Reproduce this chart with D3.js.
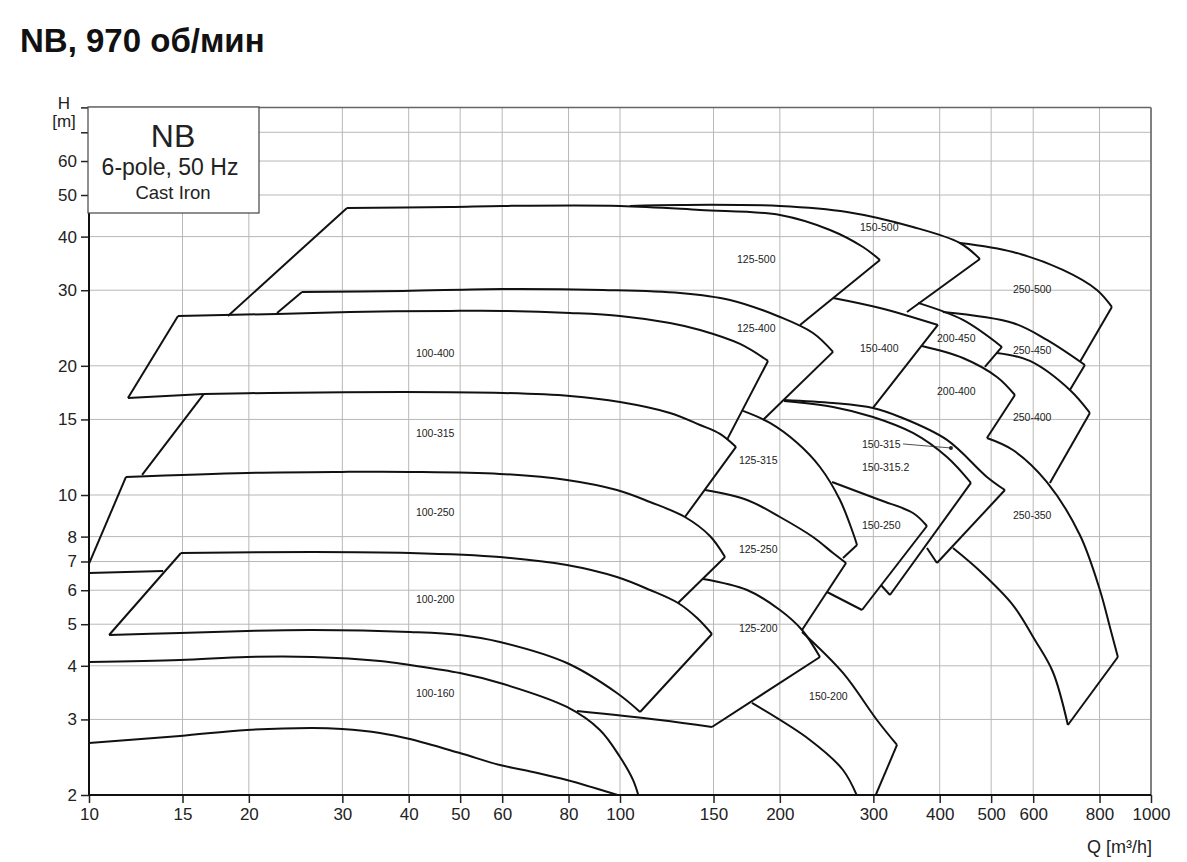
<!DOCTYPE html>
<html>
<head>
<meta charset="utf-8">
<script src="https://cdn.jsdelivr.net/npm/d3@7"></script>
<style>
	body { margin: 0; background: #fff; }
	svg { display: block; font-family: "Liberation Sans", Arial, sans-serif; }
	.grid line { stroke: #b8b8b8; stroke-width: 1; }
	.pump path { fill: none; stroke: #111; stroke-width: 2; stroke-linejoin: round; }
	.axis text { font-size: 17px; fill: #222; }
	.axis line { stroke: #222; stroke-width: 1.5; }
	.label { font-size: 10.5px; fill: #222; }
</style>
</head>
<body>
<div id="root"></div>
<script>
const xTicks = [10, 15, 20, 30, 40, 50, 60, 80, 100, 150, 200, 300, 400, 500, 600, 800, 1000]
const yTicks = [2, 3, 4, 5, 6, 7, 8, 10, 15, 20, 30, 40, 50, 60, 70, 80]
const yTickLabels = ['2', '3', '4', '5', '6', '7', '8', '10', '15', '20', '30', '40', '50', '60', '', '']

// every pump = list of visible outline pieces, points are [Q m3/h, H m]
const p100_400 = [
	[[11.84, 16.83], [14.71, 26.14]],
	[[14.71, 26.14], [22.6, 26.42], [31.0, 26.7], [47.8, 26.85], [60.2, 26.85], [80.5, 26.56], [100, 26.14], [124.2, 25.17], [141.5, 24.24], [168.3, 22.49], [190, 20.53]],
	[[190, 20.53], [159, 13.44]],
	[[11.84, 16.83], [16.46, 17.2]]
]
const p100_315 = [
	[[12.59, 11.14], [16.46, 17.2]],
	[[16.46, 17.2], [21.9, 17.29], [39.0, 17.38], [60.2, 17.29], [80.5, 17.01], [100, 16.47], [124.2, 15.53], [141.5, 14.56], [154.3, 13.88], [165.4, 12.94]],
	[[165.4, 12.94], [132.5, 8.887]]
]
const p100_250 = [
	[[9.83, 6.58], [11.74, 11.02]],
	[[11.74, 11.02], [19.83, 11.26], [29.95, 11.32], [40.21, 11.32], [59.41, 11.2], [79.44, 10.84], [98.67, 10.27], [113.9, 9.631], [132.5, 8.887], [147.7, 8.026], [157.7, 7.169]],
	[[157.7, 7.169], [128.6, 5.602]],
	[[9.83, 6.58], [13.79, 6.651]]
]
const p100_200 = [
	[[10.91, 4.719], [14.9, 7.325]],
	[[14.9, 7.325], [26.41, 7.365], [40.21, 7.325], [59.41, 7.169], [79.44, 6.869], [98.67, 6.44], [113.9, 6.007], [128.6, 5.602], [139.7, 5.169], [149, 4.744]],
	[[149, 4.744], [109.1, 3.122]],
	[[10.91, 4.719], [14.84, 4.77], [19.83, 4.822], [26.41, 4.847], [40.21, 4.795], [49.95, 4.719], [59.41, 4.545], [79.44, 4.06], [98.67, 3.457], [109.1, 3.122]]
]
const p100_160 = [
	[[10, 4.082], [14.84, 4.126], [19.83, 4.193], [26.41, 4.193], [35.31, 4.104], [40.21, 4.017], [49.95, 3.849], [59.41, 3.648], [79.44, 3.207], [91.65, 2.835], [100, 2.452], [105.8, 2.168], [109.6, 1.896]],
	[[10, 2.644], [14.84, 2.745], [19.83, 2.835], [26.41, 2.866], [29.95, 2.85], [35.31, 2.79], [40.21, 2.701], [49.95, 2.505], [59.41, 2.349], [68.55, 2.263], [79.44, 2.168], [103, 1.97]]
]
const p125_500 = [
	[[18.27, 26.14], [30.61, 46.65]],
	[[30.61, 46.65], [47.83, 46.9], [60.19, 47.15], [100, 47.15], [141.5, 46.14], [200.1, 44.92], [248.6, 41.45], [286.8, 37.83], [308.7, 35.29]],
	[[308.7, 35.29], [218.3, 24.9]]
]
const p125_400 = [
	[[22.6, 26.56], [25.18, 29.73]],
	[[25.18, 29.73], [39.01, 29.89], [60.19, 30.21], [92.85, 30.05], [129.7, 29.57], [161.1, 28.48], [200.1, 25.99], [230.9, 23.85], [251.9, 21.55]],
	[[251.9, 21.55], [185.9, 14.96]]
]
const p125_315 = [
	[[170.5, 15.7], [191.6, 14.72], [215.5, 13.23], [238, 11.62], [259.6, 9.735], [274.7, 8.156], [279.5, 7.647]],
	[[279.5, 7.647], [263, 7.131]]
]
const p125_250 = [
	[[144.6, 10.27], [173.5, 9.735], [200.1, 8.887], [230.9, 7.982], [251.9, 7.325], [266.5, 6.943]],
	[[266.5, 6.943], [220.2, 4.847]]
]
const p125_200 = [
	[[143.4, 6.372], [173.5, 6.007], [200.1, 5.396], [220.2, 4.847], [238, 4.193]],
	[[238, 4.193], [149, 2.881]],
	[[82.96, 3.139], [118.9, 2.991], [149, 2.881]]
]
const p150_500 = [
	[[104.4, 47.15], [129.7, 47.41], [200.1, 47.15], [267.6, 45.65], [356.2, 42.12], [436.7, 38.65], [476.2, 35.47]],
	[[476.2, 35.47], [347.1, 26.7]]
]
const p150_400 = [
	[[251.9, 28.79], [308.7, 27.28], [396.9, 24.9]],
	[[396.9, 24.9], [299.5, 15.95]]
]
const p150_315 = [
	[[203.6, 16.65], [251.9, 16.38], [299.5, 15.95], [336.7, 15.2], [412.8, 13.44], [490.9, 11.02], [530.8, 10.27]],
	[[530.8, 10.27], [395.3, 6.943]],
	[[378.5, 7.525], [395.3, 6.943]]
]
const p150_315_2 = [
	[[203.6, 16.56], [251.9, 16.04], [299.5, 15.2], [356.2, 13.95], [412.8, 12.26], [458, 10.67]],
	[[458, 10.67], [322.4, 5.848]],
	[[310, 6.17], [322.4, 5.848]]
]
const p150_250 = [
	[[250.8, 10.72], [308.7, 9.735], [356.2, 9.08], [378.5, 8.468]],
	[[378.5, 8.468], [285.6, 5.396]],
	[[245.4, 5.943], [285.6, 5.396]]
]
const p150_200 = [
	[[220.2, 4.795], [263, 3.849], [304.7, 2.991], [332.4, 2.616]],
	[[332.4, 2.616], [300.5, 1.95]],
	[[177.2, 3.277], [227.9, 2.687], [263, 2.287], [281.5, 1.95]]
]
const p200_450 = [
	[[364, 28.03], [442.4, 25.58], [523.9, 22.13]],
	[[523.9, 22.13], [486.6, 19.88]]
]
const p200_400 = [
	[[370.4, 22.25], [442.4, 20.86], [512.7, 18.84], [554.3, 17.1]],
	[[554.3, 17.1], [490.9, 13.58]]
]
const p250_500 = [
	[[436.7, 38.65], [549.5, 36.83], [682.4, 33.45], [790.9, 30.05], [844, 27.43]],
	[[844, 27.43], [734.6, 20.42]]
]
const p250_450 = [
	[[405.6, 26.7], [549.5, 25.17], [636.8, 22.98], [750.7, 20.09]],
	[[750.7, 20.09], [703.5, 17.57]]
]
const p250_400 = [
	[[512.7, 21.43], [591.5, 20.53], [703.5, 17.57], [767.2, 15.53]],
	[[767.2, 15.53], [645, 10.67]]
]
const p250_350 = [
	[[490.9, 13.58], [549.5, 12.73], [636.8, 10.72], [734.6, 8.068], [801.2, 6.007], [836.7, 4.925], [866.2, 4.193]],
	[[866.2, 4.193], [697.4, 2.912]],
	[[423.7, 7.525], [476.2, 6.651], [549.5, 5.542], [604.5, 4.594], [653.5, 3.869], [697.4, 2.912]]
]

// label text, Q of its left end, H of its middle
const labels = [
	['100-400', 41.27, 21.43], ['100-315', 41.27, 13.95], ['100-250', 41.27, 9.128],
	['100-200', 41.27, 5.724], ['100-160', 41.27, 3.457],
	['125-500', 166.1, 35.47], ['125-400', 166.1, 24.5], ['125-315', 167.5, 12.07],
	['125-250', 167.5, 7.485], ['125-200', 167.5, 4.899],
	['150-500', 283.1, 42.12], ['150-400', 283.1, 22.01], ['150-315', 285.6, 13.15],
	['150-315.2', 285.6, 11.62], ['150-250', 285.6, 8.513], ['150-200', 227, 3.402],
	['200-450', 395.3, 23.22], ['200-400', 395.3, 17.48],
	['250-500', 549.5, 30.21], ['250-450', 549.5, 21.78], ['250-400', 549.5, 15.2], ['250-350', 549.5, 8.983]
]
const pointer150_315 = [[341.1, 13.15], [420, 12.87]]

const pumps = [p100_400, p100_315, p100_250, p100_200, p100_160,
	p125_500, p125_400, p125_315, p125_250, p125_200,
	p150_500, p150_400, p150_315, p150_315_2, p150_250, p150_200,
	p200_450, p200_400, p250_500, p250_450, p250_400, p250_350]

const W = 1187, H = 862
const P = { left: 89, right: 1151, top: 107.4, bottom: 795 }

const svg = d3.select('#root').append('svg')
	.attr('width', W)
	.attr('height', H)

const x = d3.scaleLog().domain([10, 1000]).range([P.left, P.right])
const y = d3.scaleLog().domain([2, 80]).range([P.bottom, P.top])

// title
svg.append('text')
	.attr('x', 20)
	.attr('y', 52)
	.attr('font-size', 33)
	.attr('font-weight', 'bold')
	.attr('fill', '#111')
	.text('NB, 970 об/мин')

// grid
const grid = svg.append('g').attr('class', 'grid')
grid.selectAll('.gx')
	.data(xTicks.slice(1, -1))
	.enter()
	.append('line')
	.attr('x1', d => x(d)).attr('x2', d => x(d))
	.attr('y1', P.top).attr('y2', P.bottom)
grid.selectAll('.gy')
	.data(yTicks.slice(1, -1))
	.enter()
	.append('line')
	.attr('x1', P.left).attr('x2', P.right)
	.attr('y1', d => y(d)).attr('y2', d => y(d))

// frame top / right
svg.append('line')
	.attr('x1', P.left).attr('x2', P.right)
	.attr('y1', P.top).attr('y2', P.top)
	.attr('stroke', '#666').attr('stroke-width', 1.5)
svg.append('line')
	.attr('x1', P.right).attr('x2', P.right)
	.attr('y1', P.top).attr('y2', P.bottom)
	.attr('stroke', '#808080').attr('stroke-width', 2)

// axes
const axisX = d3.axisBottom(x)
	.tickValues(xTicks)
	.tickFormat(d3.format('d'))
	.tickSize(8)
	.tickPadding(5)
const axisY = d3.axisLeft(y)
	.tickValues(yTicks)
	.tickFormat((d, i) => yTickLabels[i])
	.tickSize(8)
	.tickPadding(4)

svg.append('g')
	.attr('class', 'axis')
	.attr('transform', `translate(0,${P.bottom})`)
	.call(axisX)
	.call(g => g.select('.domain').remove())
svg.append('g')
	.attr('class', 'axis')
	.attr('transform', `translate(${P.left},0)`)
	.call(axisY)
	.call(g => g.select('.domain').remove())

svg.append('line')
	.attr('x1', P.left).attr('x2', P.right)
	.attr('y1', P.bottom).attr('y2', P.bottom)
	.attr('stroke', '#111').attr('stroke-width', 2)
svg.append('line')
	.attr('x1', P.left).attr('x2', P.left)
	.attr('y1', P.top).attr('y2', P.bottom)
	.attr('stroke', '#111').attr('stroke-width', 2)

// axis titles
svg.append('text')
	.attr('x', 64).attr('y', 109)
	.attr('text-anchor', 'middle')
	.attr('font-size', 17).attr('fill', '#222')
	.text('H')
svg.append('text')
	.attr('x', 64).attr('y', 127)
	.attr('text-anchor', 'middle')
	.attr('font-size', 17).attr('fill', '#222')
	.text('[m]')
svg.append('text')
	.attr('x', 1152).attr('y', 853)
	.attr('text-anchor', 'end')
	.attr('font-size', 18).attr('fill', '#222')
	.text('Q [m³/h]')

// pump curves
svg.append('clipPath')
	.attr('id', 'plotClip')
	.append('rect')
	.attr('x', P.left).attr('y', P.top)
	.attr('width', P.right - P.left).attr('height', P.bottom - P.top)

const line = d3.line()
	.x(d => x(d[0]))
	.y(d => y(d[1]))
	.curve(d3.curveCatmullRom.alpha(0.5))

svg.append('g')
	.attr('class', 'pump')
	.attr('clip-path', 'url(#plotClip)')
	.selectAll('path')
	.data(pumps.flat())
	.enter()
	.append('path')
	.attr('d', line)

// labels
svg.append('g')
	.selectAll('text')
	.data(labels)
	.enter()
	.append('text')
	.attr('class', 'label')
	.attr('x', d => x(d[1]))
	.attr('y', d => y(d[2]))
	.attr('dy', '0.35em')
	.text(d => d[0])

svg.append('line')
	.attr('x1', x(pointer150_315[0][0])).attr('y1', y(pointer150_315[0][1]))
	.attr('x2', x(pointer150_315[1][0])).attr('y2', y(pointer150_315[1][1]))
	.attr('stroke', '#222').attr('stroke-width', 0.8)
svg.append('circle')
	.attr('cx', x(pointer150_315[1][0])).attr('cy', y(pointer150_315[1][1]))
	.attr('r', 2).attr('fill', '#222')

// legend box
const legend = svg.append('g')
legend.append('rect')
	.attr('x', 88).attr('y', 107)
	.attr('width', 171).attr('height', 106)
	.attr('fill', '#fff')
	.attr('stroke', '#444').attr('stroke-width', 1.2)
legend.append('text')
	.attr('x', 173).attr('y', 147)
	.attr('text-anchor', 'middle')
	.attr('font-size', 32).attr('fill', '#222')
	.text('NB')
legend.append('text')
	.attr('x', 170).attr('y', 174.5)
	.attr('text-anchor', 'middle')
	.attr('font-size', 23).attr('fill', '#222')
	.text('6-pole, 50 Hz')
legend.append('text')
	.attr('x', 173).attr('y', 199)
	.attr('text-anchor', 'middle')
	.attr('font-size', 18.5).attr('fill', '#222')
	.text('Cast Iron')
</script>
</body>
</html>
